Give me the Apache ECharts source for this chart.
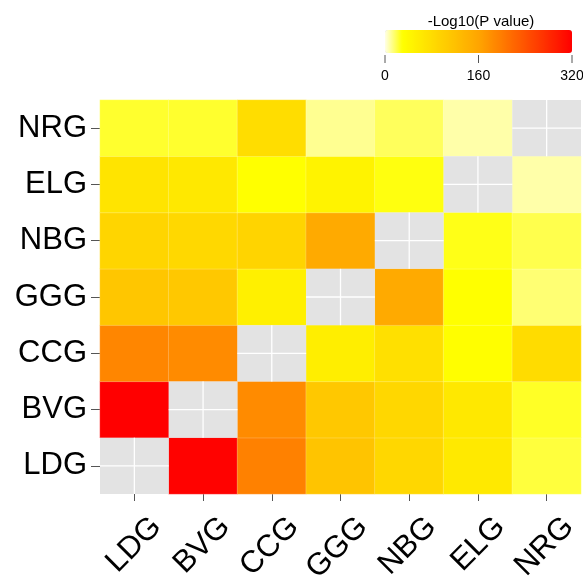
<!DOCTYPE html>
<html><head><meta charset="utf-8">
<script src="https://cdn.jsdelivr.net/npm/echarts@6/dist/echarts.min.js"></script>
<style>html,body{margin:0;padding:0;background:#fff}#c{width:583px;height:577px}</style>
</head><body><div id="c"></div>
<script>
const xCategories = ['LDG','BVG','CCG','GGG','NBG','ELG','NRG'];
const yCategories = ['LDG','BVG','CCG','GGG','NBG','ELG','NRG'];
// rows follow yCategories (bottom to top), columns follow xCategories
const rowLDG = [null, 318, 195, 115, 88, 62, 22];
const rowBVG = [320, null, 185, 110, 88, 64, 25];
const rowCCG = [190, 185, null, 55, 75, 32, 80];
const rowGGG = [113, 110, 52, null, 153, 30, 15];
const rowNBG = [90, 86, 92, 153, null, 27, 20];
const rowELG = [69, 63, 30, 47, 28, null, 8];
const rowNRG = [24, 24, 79, 11, 18, 8, null];
const legendTicks = [0, 160, 320];
const legendTitle = '-Log10(P value)';

const rows = [rowLDG, rowBVG, rowCCG, rowGGG, rowNBG, rowELG, rowNRG];
const heatData = [], naData = [];
rows.forEach((r, yi) => r.forEach((v, xi) => {
  if (v === null) naData.push([xi, yi]); else heatData.push([xi, yi, v]);
}));

// colour ramp
const stops = [[0,[255,255,230]],[30,[255,255,0]],[160,[255,165,0]],[320,[255,0,0]]];
function rampAt(v){
  for (let i=0;i<stops.length-1;i++){
    const a=stops[i], b=stops[i+1];
    if (v<=b[0]) { const t=(v-a[0])/(b[0]-a[0]); return 'rgb('+a[1].map((c,k)=>Math.round(c+(b[1][k]-c)*t)).join(',')+')'; }
  }
  return 'rgb(255,0,0)';
}
const ramp = []; for (let v=0; v<=320; v+=5) ramp.push(rampAt(v));

const L = {barLeft:385, barTop:30, barLen:187, barThick:23};
const chart = echarts.init(document.getElementById('c'));
const fontFam = '"Liberation Sans", Arial, sans-serif';
const g = [];
g.push({type:'text', x: 481, y: 14, style:{text: legendTitle, font:'15px '+fontFam, fill:'#000', textAlign:'center', textVerticalAlign:'top'}});
legendTicks.forEach(t => {
  const x = L.barLeft + t/320*L.barLen;
  g.push({type:'line', shape:{x1:x, y1:L.barTop+L.barThick+2, x2:x, y2:L.barTop+L.barThick+10}, style:{stroke:'#555', lineWidth:1}});
  g.push({type:'text', x:x, y:L.barTop+L.barThick+16, style:{text:String(t), font:'14px '+fontFam, fill:'#000', textAlign:'center', textVerticalAlign:'top'}});
});

chart.setOption({
  animation:false,
  grid:{left:100, right:2, top:100, bottom:83, containLabel:false, outerBoundsMode:'none'},
  xAxis:{type:'category', data:xCategories, axisLine:{show:false},
    axisTick:{show:true, alignWithLabel:true, length:7, lineStyle:{color:'#555', width:1}},
    axisLabel:{rotate:45, fontSize:31, color:'#000', fontFamily:fontFam, margin:6,
      verticalAlign:'top', padding:[16,0,0,0]}, splitLine:{show:false}},
  yAxis:{type:'category', data:yCategories, axisLine:{show:false},
    axisTick:{show:true, alignWithLabel:true, length:9, lineStyle:{color:'#555', width:1}},
    axisLabel:{fontSize:31, color:'#000', fontFamily:fontFam, margin:13}, splitLine:{show:false}},
  visualMap:{type:'continuous', min:0, max:320, orient:'horizontal', left:L.barLeft, top:L.barTop,
    itemWidth:L.barThick, itemHeight:L.barLen, padding:0, calculable:false, text:['',''], showLabel:false,
    inRange:{color:ramp}, seriesIndex:0, hoverLink:false},
  graphic:g,
  series:[
    {type:'heatmap', data:heatData, itemStyle:{borderWidth:0.6, borderColor:'rgba(255,255,255,0.35)'}, emphasis:{disabled:true}},
    {type:'custom', data:naData, renderItem:(params, api) => {
      const c = api.coord([api.value(0), api.value(1)]);
      const s = api.size([1,1]);
      return {type:'group', children:[
        {type:'rect', shape:{x:c[0]-s[0]/2, y:c[1]-s[1]/2, width:s[0], height:s[1]}, style:{fill:'#e3e3e3'}},
        {type:'line', shape:{x1:c[0]-s[0]/2, y1:c[1], x2:c[0]+s[0]/2, y2:c[1]}, style:{stroke:'#fff', lineWidth:1.3}},
        {type:'line', shape:{x1:c[0], y1:c[1]-s[1]/2, x2:c[0], y2:c[1]+s[1]/2}, style:{stroke:'#fff', lineWidth:1.3}}
      ]};
    }}
  ]
});
</script></body></html>
